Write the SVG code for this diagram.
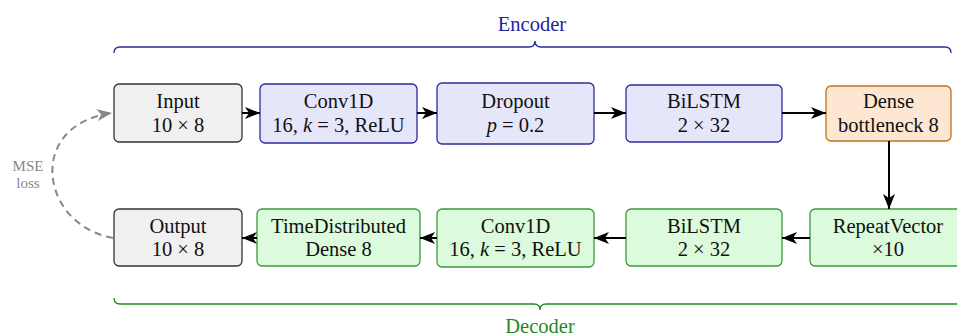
<svg xmlns="http://www.w3.org/2000/svg" width="957" height="336" viewBox="0 0 957 336">
<style>
text{font-family:"Liberation Serif","DejaVu Serif",serif;font-size:20.5px;fill:#111;text-anchor:middle}
.gray rect{fill:#f0f0f0;stroke:#333;stroke-width:1.3}
.blue rect{fill:#e6e6fb;stroke:#2a2aa0;stroke-width:1.3}
.orange rect{fill:#fde7d2;stroke:#c0701f;stroke-width:1.3}
.green rect{fill:#dcfadc;stroke:#3a9a3a;stroke-width:1.3}
.edge{stroke:#000;stroke-width:2;fill:none;marker-end:url(#ah)}
.it{font-style:italic}
.note{fill:#888;font-size:15px}
</style>
<defs>
<marker id="ah" markerUnits="userSpaceOnUse" markerWidth="16" markerHeight="14" refX="15" refY="7" orient="auto">
<path d="M0,1 L15,7 L0,13 L4,7 z" fill="#000"/>
</marker>
<marker id="ahg" markerUnits="userSpaceOnUse" markerWidth="16" markerHeight="14" refX="15" refY="7" orient="auto">
<path d="M0,1 L15,7 L0,13 L4,7 z" fill="#888"/>
</marker>
</defs>

<g id="braces" fill="none" stroke-width="1.3">
<path d="M114,53 Q114,47 120,47 H529 Q535,47 535,41 Q535,47 541,47 H945 Q951,47 951,53" stroke="#2a2aa0"/>
<path d="M114,298 Q114,304 120,304 H534 Q540,304 540,310 Q540,304 546,304 H962" stroke="#1f8a1f"/>
</g>
<text x="532" y="31" style="fill:#1f1fa0">Encoder</text>
<text x="540" y="333" style="fill:#1f8a1f">Decoder</text>

<g id="input" class="gray"><rect x="114" y="84" width="128" height="58" rx="5"/><text x="178" y="108">Input</text><text x="178" y="132">10 × 8</text></g>
<g id="conv1" class="blue"><rect x="260" y="84" width="157" height="59" rx="5"/><text x="338.5" y="108">Conv1D</text><text x="338.5" y="132">16, <tspan class="it">k</tspan> = 3, ReLU</text></g>
<g id="dropout" class="blue"><rect x="437" y="83" width="157" height="61" rx="5"/><text x="515.5" y="108">Dropout</text><text x="515.5" y="132"><tspan class="it">p</tspan> = 0.2</text></g>
<g id="bilstm1" class="blue"><rect x="626" y="85" width="156" height="57" rx="5"/><text x="704" y="108">BiLSTM</text><text x="704" y="132">2 × 32</text></g>
<g id="dense" class="orange"><rect x="826" y="86" width="125" height="55" rx="5"/><text x="888.5" y="108">Dense</text><text x="888.5" y="132">bottleneck 8</text></g>

<g id="output" class="gray"><rect x="114" y="209" width="128" height="57" rx="5"/><text x="178" y="233">Output</text><text x="178" y="256">10 × 8</text></g>
<g id="timedist" class="green"><rect x="257" y="209" width="163" height="57" rx="5"/><text x="338.5" y="233">TimeDistributed</text><text x="338.5" y="256">Dense 8</text></g>
<g id="conv2" class="green"><rect x="437" y="209" width="157" height="58" rx="5"/><text x="515.5" y="233">Conv1D</text><text x="515.5" y="256">16, <tspan class="it">k</tspan> = 3, ReLU</text></g>
<g id="bilstm2" class="green"><rect x="626" y="209" width="156" height="57" rx="5"/><text x="704" y="233">BiLSTM</text><text x="704" y="256">2 × 32</text></g>
<g id="repeat" class="green"><rect x="810" y="209" width="156" height="57" rx="5"/><text x="888" y="233">RepeatVector</text><text x="888" y="256">×10</text></g>

<g id="connectors">
<path class="edge" d="M242,113 H260"/>
<path class="edge" d="M417,113 H437"/>
<path class="edge" d="M594,113 H626"/>
<path class="edge" d="M782,113 H826"/>
<path class="edge" d="M889,141 V209"/>
<path class="edge" d="M810,238 H782"/>
<path class="edge" d="M626,238 H594"/>
<path class="edge" d="M437,238 H420"/>
<path class="edge" d="M257,238 H242"/>
<path d="M113,238 C40,225 25,125 112,113" fill="none" stroke="#888" stroke-width="2" stroke-dasharray="7,5" marker-end="url(#ahg)"/>
</g>
<text x="28" y="171" class="note">MSE</text>
<text x="28" y="188" class="note">loss</text>
</svg>
